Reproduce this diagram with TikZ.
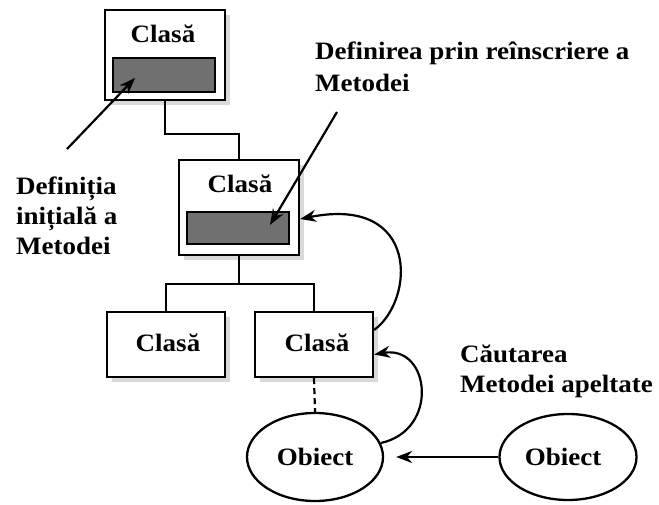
\documentclass[tikz,border=0pt]{standalone}
\usepackage{fontspec}
\setmainfont[FakeStretch=1.08]{Liberation Serif}
\usetikzlibrary{arrows.meta,shapes.geometric,shadows}
\begin{document}
\begin{tikzpicture}[x=1pt,y=-1pt,
  txt/.style={font=\fontsize{25}{30}\selectfont\bfseries,inner sep=0pt,anchor=base},
  ltxt/.style={txt,anchor=base west},
  classbox/.style={draw=black,line width=2.3pt,fill=white,inner sep=0pt,
    drop shadow={shadow xshift=5pt,shadow yshift=-5pt,fill=black!15,opacity=1}},
  methbox/.style={draw=black,line width=2.3pt,fill=black!56,inner sep=0pt},
  objell/.style={ellipse,draw=black,line width=2.3pt,fill=white,inner sep=0pt},
  conn/.style={draw=black,line width=2.2pt},
  arr/.style={conn,-{Stealth[length=16pt,width=12pt]}}]
\useasboundingbox (0,0) rectangle (659,505);
% classes
\node[classbox,minimum width=120pt,minimum height=90pt] (c1) at (165,55) {};
\node[methbox,minimum width=102pt,minimum height=34pt] (m1) at (164,75) {};
\node[txt] (t1) at (163,43) {Clasă};
\node[classbox,minimum width=120pt,minimum height=95pt] (c2) at (239,207.5) {};
\node[methbox,minimum width=102pt,minimum height=32pt] (m2) at (238,228) {};
\node[txt] (t2) at (240,193) {Clasă};
\node[classbox,minimum width=118pt,minimum height=65pt] (c3) at (166,344.5) {};
\node[txt] (t3) at (168,351) {Clasă};
\node[classbox,minimum width=118pt,minimum height=65pt] (c4) at (314,344.5) {};
\node[txt] (t4) at (317,351) {Clasă};
% objects
\node[objell,minimum width=136pt,minimum height=88pt] (o1) at (315,457) {};
\node[txt] (to1) at (315,465) {Obiect};
\node[objell,minimum width=137pt,minimum height=86pt] (o2) at (568,457) {};
\node[txt] (to2) at (563,465) {Obiect};
% labels
\node[ltxt] (l1a) at (16,195) {Definiția};
\node[ltxt] (l1b) at (16,225) {inițială a};
\node[ltxt] (l1c) at (16,255) {Metodei};
\node[ltxt] (l2a) at (315,60) {Definirea prin reînscriere a};
\node[ltxt] (l2b) at (315,92) {Metodei};
\node[ltxt] (l3a) at (460,362) {Căutarea};
\node[ltxt] (l3b) at (460,392) {Metodei apeltate};
% tree connectors
\draw[conn] (c1.south) -- ++(0,33) -| (c2.north);
\draw[conn] (c2.south) -- ++(0,28) coordinate (j);
\draw[conn] (c3.north) |- (j) -| (c4.north);
\draw[conn,dash pattern=on 6pt off 4pt] (c4.south) -- (o1.north);
% arrows
\coordinate (a1s) at (67,149);
\coordinate (a1e) at (135,78);
\draw[arr] (a1s) -- (a1e);
\coordinate (a2s) at (337,112);
\coordinate (a2e) at (270,225);
\draw[arr] (a2s) -- (a2e);
\draw[arr,shorten >=12pt] (o2) -- (o1);
\draw[arr] (o1.12) .. controls (440,430) and (430,345) .. ([yshift=-10pt]c4.east);
\draw[arr] ([yshift=14.5pt]c4.east) .. controls (415,300) and (420,195) .. ([yshift=-11.5pt]c2.east);
\end{tikzpicture}
\end{document}
